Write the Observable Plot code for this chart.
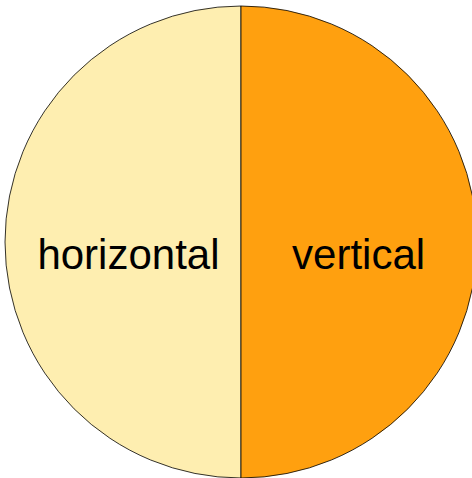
<!DOCTYPE html>
<html>
<head>
<meta charset="utf-8">
<script src="https://cdn.jsdelivr.net/npm/d3@7"></script>
<script src="https://cdn.jsdelivr.net/npm/@observablehq/plot@0.6"></script>
<style>
  html, body { margin: 0; padding: 0; background: white; overflow: hidden; }
</style>
</head>
<body>
<div id="chart"></div>
<script>
const categories = ["horizontal", "vertical"];
const values = [50, 50];
const colors = ["#feeeb0", "#ffa00f"];

const data = categories.map((c, i) => ({category: c, value: values[i], color: colors[i]}));
const arcs = d3.pie().sort(null).value(d => d.value).startAngle(Math.PI).endAngle(3 * Math.PI)(data);
const labelArc = d3.arc().innerRadius(0).outerRadius(0.975);
const labels = arcs.map(a => {
  const [cx, cy] = labelArc.centroid(a);
  return {label: a.data.category, x: cx, y: -cy};
});

const pieMark = (index, scales, values, dimensions) => {
  const cx = scales.x(0), cy = scales.y(0);
  const r = scales.x(1) - scales.x(0);
  const arc = d3.arc().innerRadius(0).outerRadius(r);
  const g = d3.create("svg:g").attr("transform", `translate(${cx},${cy})`);
  g.selectAll("path").data(arcs).join("path")
    .attr("d", arc)
    .attr("fill", d => d.data.color)
    .attr("stroke", "#000")
    .attr("stroke-width", 0.8);
  return g.node();
};

const chart = Plot.plot({
  width: 472,
  height: 478,
  margin: 0,
  x: {domain: [-1, 1], range: [5, 477], axis: null},
  y: {domain: [-1, 1], range: [478, 6], axis: null},
  marks: [
    pieMark,
    Plot.text(labels, {
      x: "x", y: "y", text: "label",
      fontSize: 42,
      fontFamily: "Liberation Sans, Arial, sans-serif",
      fill: "black",
      dx: 2,
      dy: 13
    })
  ]
});
document.getElementById("chart").appendChild(chart);
</script>
</body>
</html>
